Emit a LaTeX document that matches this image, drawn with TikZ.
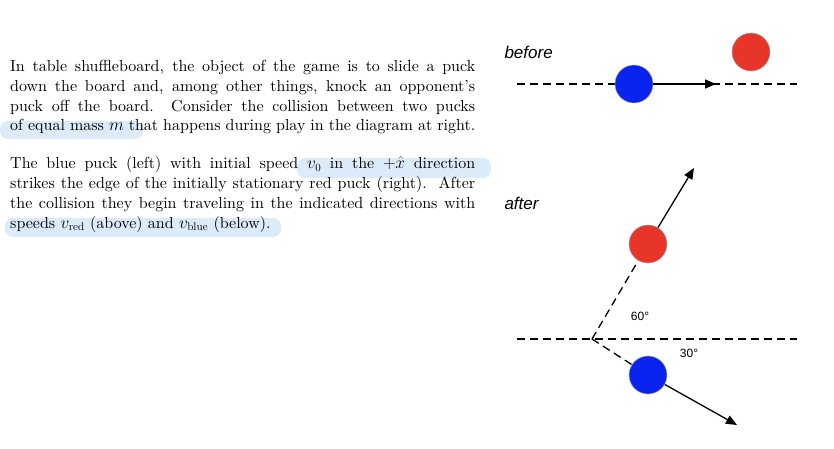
\documentclass[tikz,border=0pt]{standalone}
\usepackage{fontspec}
\setmainfont{lmroman10-regular.otf}[ItalicFont=lmroman10-italic.otf,BoldFont=lmroman10-bold.otf]
\newfontfamily\lsans{Liberation Sans}
\usetikzlibrary{arrows.meta}
\definecolor{hl}{HTML}{DCEBFA}
\definecolor{pred}{HTML}{E8352A}
\definecolor{pblue}{HTML}{0A24F0}
\newcommand{\jl}[1]{\hbox to 465pt{#1}}
\begin{document}
\begin{tikzpicture}[x=1pt,y=-1pt,
  puck/.style={circle,minimum size=38pt,inner sep=0pt,draw=gray!70,line width=0.5pt},
  ref/.style={dashed,dash pattern=on 8pt off 5pt,line width=1.3pt},
  vel/.style={line width=1.3pt,-{Triangle[length=11pt,width=9pt]}},
  hlbox/.style={fill=hl,rounded corners=8pt,draw=none},
  lab/.style={font=\lsans\itshape\fontsize{17}{17}\selectfont,anchor=west},
  ang/.style={font=\lsans\fontsize{12}{12}\selectfont}]
\useasboundingbox (0,0) rectangle (834,448);
\fill[hlbox] (0,121) rectangle (143,139);
\fill[hlbox] (297,158) rectangle (491,178);
\fill[hlbox] (5,218) rectangle (281,237);
\node[anchor=north west,align=left,inner sep=0pt,font=\fontsize{16}{19.8}\selectfont] (txt) at (10,60)
{\jl{In table shuffleboard, the object of the game is to slide a puck}\\
\jl{down the board and, among other things, knock an opponent's}\\
\jl{puck off the board.\ \ Consider the collision between two pucks}\\
\jl{of equal mass $m$ that happens during play in the diagram at right.}\\[18pt]
\jl{The blue puck (left) with initial speed $v_0$ in the $+\hat{x}$ direction}\\
\jl{strikes the edge of the initially stationary red puck (right).\ \ After}\\
\jl{the collision they begin traveling in the indicated directions with}\\
speeds $v_{\mathrm{red}}$ (above) and $v_{\mathrm{blue}}$ (below).};
% before
\node[lab] (before) at (501,52) {before};
\coordinate (b1) at (517,84);
\coordinate (b2) at (797,84);
\draw[ref] (b1) -- (b2);
\node[puck,fill=pblue] (bb) at (634,84) {};
\coordinate (btip) at (716,84);
\draw[vel] (bb.east) -- (btip);
\node[puck,fill=pred] (rb) at (751,52) {};
% after
\node[lab] (after) at (501,203) {after};
\coordinate (a1) at (517,339);
\coordinate (a2) at (797,339);
\draw[ref] (a1) -- (a2);
\coordinate (c) at (592,339);
\node[puck,fill=pred] (ra) at (648,244) {};
\node[puck,fill=pblue] (ba) at (648,375) {};
\draw[ref] (c) -- (ra);
\draw[ref] (c) -- (ba);
\coordinate (rtip) at (694,168);
\coordinate (btip2) at (737,425);
\draw[vel] (ra) -- (rtip);
\draw[vel] (ba) -- (btip2);
\node[ang] (a60) at (640,316) {60°};
\node[ang] (a30) at (689,353) {30°};
\end{tikzpicture}
\end{document}
